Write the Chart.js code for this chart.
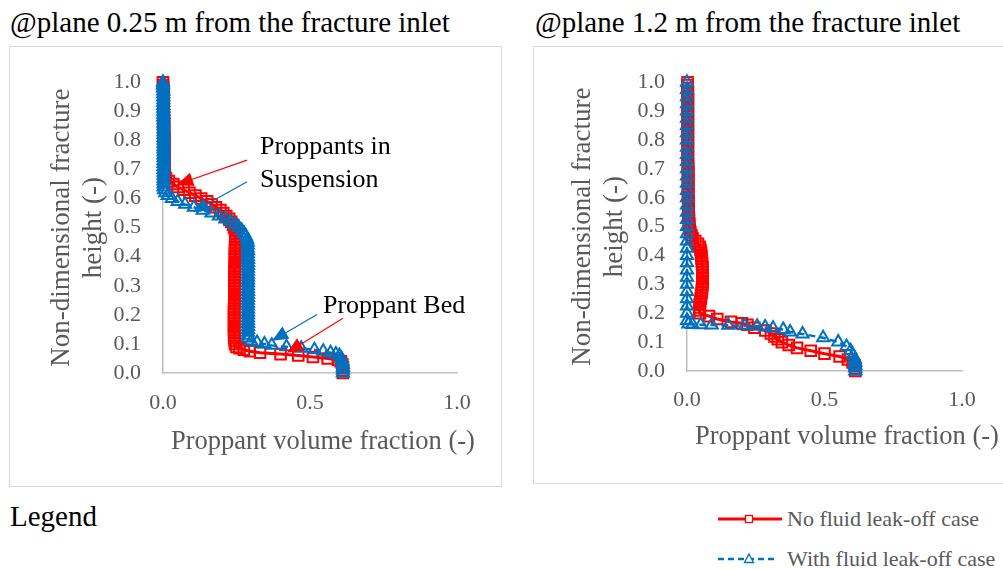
<!DOCTYPE html>
<html>
<head>
<meta charset="utf-8">
<script src="https://cdn.jsdelivr.net/npm/chart.js@4.4.0/dist/chart.umd.min.js"></script>
<style>
  body {
    margin: 0;
    width: 1003px;
    height: 569px;
    overflow: hidden;
    background: #fff;
    position: relative;
    font-family: "Liberation Serif", "Times New Roman", serif;
  }
  .titulo {
    position: absolute;
    top: 8px;
    font-size: 29px;
    line-height: 29px;
    color: #000;
    white-space: nowrap;
  }
  .caixa {
    position: absolute;
    box-sizing: border-box;
    border: 1px solid #d9d9d9;
    background: #fff;
    overflow: hidden;
  }
  .caixa canvas {
    position: absolute;
    left: 0;
    top: 0;
  }
  .legenda-texto {
    position: absolute;
    left: 787px;
    font-size: 22px;
    line-height: 22px;
    color: #595959;
    white-space: nowrap;
  }
</style>
</head>
<body>

<div class="titulo" style="left:10px">@plane 0.25 m from the fracture inlet</div>
<div class="titulo" style="left:535px">@plane 1.2 m from the fracture inlet</div>

<div class="caixa" style="left:9px; top:46px; width:493px; height:441px">
  <canvas id="graficoEsquerda" width="491" height="439"></canvas>
</div>
<div class="caixa" style="left:533px; top:46px; width:480px; height:438px">
  <canvas id="graficoDireita" width="469" height="436"></canvas>
</div>

<div class="titulo" style="left:10px; top:502px">Legend</div>

<svg style="position:absolute; left:714px; top:505px" width="72" height="64">
  <line x1="4" y1="14" x2="68" y2="14" stroke="#ff0000" stroke-width="3" />
  <rect x="31.5" y="10.5" width="7" height="7" fill="#fff" stroke="#ff0000" stroke-width="1.3" />
  <line x1="4" y1="54" x2="63" y2="54" stroke="#0070c0" stroke-width="2.5" stroke-dasharray="6,4" />
  <polygon points="35,49 39.5,57.5 30.5,57.5" fill="#fff" stroke="#0070c0" stroke-width="1.3" />
</svg>
<div class="legenda-texto" style="top:508px">No fluid leak-off case</div>
<div class="legenda-texto" style="top:548px">With fluid leak-off case</div>

<script>
// [fracao volumetrica, altura adimensional]
const esquerdaSemPerda = [
  [0.000, 1.00], [0.000, 0.99], [0.001, 0.98], [0.001, 0.97], [0.001, 0.96],
  [0.002, 0.95], [0.002, 0.94], [0.002, 0.93], [0.002, 0.92], [0.002, 0.91],
  [0.002, 0.90], [0.003, 0.89], [0.003, 0.88], [0.003, 0.87], [0.003, 0.86],
  [0.003, 0.85], [0.003, 0.84], [0.003, 0.83], [0.003, 0.82], [0.004, 0.81],
  [0.004, 0.80], [0.004, 0.79], [0.004, 0.78], [0.004, 0.77], [0.004, 0.76],
  [0.004, 0.75], [0.004, 0.74], [0.005, 0.73], [0.005, 0.72], [0.005, 0.71],
  [0.005, 0.70], [0.005, 0.69], [0.006, 0.68], [0.010, 0.67], [0.020, 0.66],
  [0.035, 0.65], [0.050, 0.64], [0.070, 0.63], [0.090, 0.62], [0.110, 0.61],
  [0.130, 0.60], [0.150, 0.59], [0.165, 0.58], [0.180, 0.57], [0.195, 0.56],
  [0.205, 0.55], [0.215, 0.54], [0.225, 0.53], [0.232, 0.52], [0.238, 0.51],
  [0.242, 0.50], [0.245, 0.49], [0.246, 0.48], [0.246, 0.47], [0.246, 0.46],
  [0.246, 0.45], [0.246, 0.44], [0.245, 0.43], [0.245, 0.42], [0.245, 0.41],
  [0.245, 0.40], [0.245, 0.39], [0.245, 0.38], [0.244, 0.37], [0.244, 0.36],
  [0.244, 0.35], [0.244, 0.34], [0.244, 0.33], [0.244, 0.32], [0.243, 0.31],
  [0.243, 0.30], [0.243, 0.29], [0.243, 0.28], [0.243, 0.27], [0.243, 0.26],
  [0.243, 0.25], [0.243, 0.24], [0.242, 0.23], [0.242, 0.22], [0.242, 0.21],
  [0.242, 0.20], [0.242, 0.19], [0.242, 0.18], [0.242, 0.17], [0.242, 0.16],
  [0.242, 0.15], [0.242, 0.14], [0.242, 0.13], [0.243, 0.12], [0.244, 0.11],
  [0.245, 0.10], [0.250, 0.090], [0.260, 0.085], [0.275, 0.080], [0.295, 0.075],
  [0.330, 0.070], [0.400, 0.065], [0.460, 0.060], [0.510, 0.055], [0.560, 0.050],
  [0.595, 0.045], [0.605, 0.040], [0.610, 0.030], [0.612, 0.020], [0.612, 0.010],
  [0.612, 0.000]
];

const esquerdaComPerda = [
  [0.000, 1.00], [0.000, 0.99], [0.000, 0.98], [0.001, 0.97], [0.001, 0.96],
  [0.001, 0.95], [0.001, 0.94], [0.001, 0.93], [0.001, 0.92], [0.001, 0.91],
  [0.001, 0.90], [0.001, 0.89], [0.001, 0.88], [0.002, 0.87], [0.002, 0.86],
  [0.002, 0.85], [0.002, 0.84], [0.002, 0.83], [0.002, 0.82], [0.002, 0.81],
  [0.002, 0.80], [0.002, 0.79], [0.002, 0.78], [0.002, 0.77], [0.002, 0.76],
  [0.002, 0.75], [0.002, 0.74], [0.002, 0.73], [0.002, 0.72], [0.002, 0.71],
  [0.002, 0.70], [0.002, 0.69], [0.002, 0.68], [0.002, 0.67], [0.002, 0.66],
  [0.002, 0.65], [0.002, 0.64], [0.004, 0.63], [0.008, 0.62], [0.016, 0.61],
  [0.030, 0.60], [0.050, 0.59], [0.075, 0.58], [0.105, 0.57], [0.135, 0.56],
  [0.165, 0.55], [0.190, 0.54], [0.212, 0.53], [0.230, 0.52], [0.245, 0.51],
  [0.258, 0.50], [0.268, 0.49], [0.276, 0.48], [0.282, 0.47], [0.286, 0.46],
  [0.288, 0.45], [0.288, 0.44], [0.288, 0.43], [0.289, 0.42], [0.289, 0.41],
  [0.289, 0.40], [0.289, 0.39], [0.289, 0.38], [0.289, 0.37], [0.289, 0.36],
  [0.289, 0.35], [0.289, 0.34], [0.289, 0.33], [0.289, 0.32], [0.289, 0.31],
  [0.289, 0.30], [0.289, 0.29], [0.289, 0.28], [0.289, 0.27], [0.289, 0.26],
  [0.289, 0.25], [0.289, 0.24], [0.289, 0.23], [0.289, 0.22], [0.289, 0.21],
  [0.289, 0.20], [0.289, 0.19], [0.289, 0.18], [0.289, 0.17], [0.289, 0.16],
  [0.289, 0.15], [0.289, 0.14], [0.289, 0.13], [0.290, 0.120], [0.300, 0.110],
  [0.320, 0.105], [0.345, 0.100], [0.370, 0.095], [0.420, 0.090], [0.470, 0.085],
  [0.515, 0.080], [0.545, 0.075], [0.570, 0.070], [0.588, 0.065], [0.600, 0.060],
  [0.607, 0.050], [0.610, 0.040], [0.612, 0.030], [0.612, 0.020], [0.612, 0.010],
  [0.612, 0.000]
];

const direitaSemPerda = [
  [0.002, 1.00], [0.002, 0.99], [0.002, 0.98], [0.003, 0.97], [0.003, 0.96],
  [0.003, 0.95], [0.003, 0.94], [0.003, 0.93], [0.003, 0.92], [0.003, 0.91],
  [0.003, 0.90], [0.003, 0.89], [0.003, 0.88], [0.003, 0.87], [0.003, 0.86],
  [0.003, 0.85], [0.003, 0.84], [0.003, 0.83], [0.003, 0.82], [0.003, 0.81],
  [0.003, 0.80], [0.003, 0.79], [0.003, 0.78], [0.003, 0.77], [0.003, 0.76],
  [0.003, 0.75], [0.003, 0.74], [0.003, 0.73], [0.003, 0.72], [0.004, 0.71],
  [0.004, 0.70], [0.004, 0.69], [0.004, 0.68], [0.004, 0.67], [0.004, 0.66],
  [0.004, 0.65], [0.004, 0.64], [0.004, 0.63], [0.004, 0.62], [0.004, 0.61],
  [0.004, 0.60], [0.005, 0.59], [0.005, 0.58], [0.005, 0.57], [0.005, 0.56],
  [0.006, 0.55], [0.006, 0.54], [0.007, 0.53], [0.007, 0.52], [0.008, 0.51],
  [0.008, 0.50], [0.010, 0.49], [0.012, 0.48], [0.016, 0.47], [0.020, 0.46],
  [0.030, 0.45], [0.040, 0.44], [0.046, 0.43], [0.049, 0.42], [0.051, 0.41],
  [0.052, 0.40], [0.053, 0.39], [0.054, 0.38], [0.055, 0.37], [0.056, 0.36],
  [0.056, 0.35], [0.057, 0.34], [0.057, 0.33], [0.057, 0.32], [0.057, 0.31],
  [0.056, 0.30], [0.055, 0.29], [0.054, 0.28], [0.053, 0.27], [0.051, 0.26],
  [0.050, 0.25], [0.048, 0.24], [0.046, 0.23], [0.045, 0.22], [0.044, 0.21],
  [0.047, 0.200], [0.080, 0.190], [0.110, 0.180], [0.160, 0.170], [0.200, 0.165],
  [0.220, 0.160], [0.245, 0.150], [0.285, 0.140], [0.305, 0.130], [0.318, 0.120],
  [0.330, 0.110], [0.345, 0.100], [0.370, 0.090], [0.400, 0.080], [0.450, 0.070],
  [0.500, 0.060], [0.555, 0.050], [0.585, 0.040], [0.602, 0.030], [0.610, 0.020],
  [0.612, 0.010], [0.612, 0.000]
];

const direitaComPerda = [
  [0.000, 1.000], [0.000, 0.975], [0.000, 0.950], [0.000, 0.925], [0.000, 0.900],
  [0.000, 0.875], [0.000, 0.850], [0.000, 0.825], [0.000, 0.800], [0.000, 0.775],
  [0.000, 0.750], [0.000, 0.725], [0.000, 0.700], [0.000, 0.675], [0.000, 0.650],
  [0.000, 0.625], [0.000, 0.600], [0.000, 0.575], [0.000, 0.550], [0.000, 0.525],
  [0.000, 0.500], [0.000, 0.475], [0.000, 0.450], [0.000, 0.425], [0.000, 0.400],
  [0.000, 0.375], [0.000, 0.350], [0.000, 0.325], [0.000, 0.300], [0.000, 0.275],
  [0.000, 0.250], [0.000, 0.225], [0.000, 0.200], [0.000, 0.175], [0.005, 0.163],
  [0.020, 0.161], [0.050, 0.160], [0.090, 0.159], [0.150, 0.158], [0.210, 0.157],
  [0.255, 0.155], [0.284, 0.152], [0.313, 0.148], [0.350, 0.144], [0.375, 0.135],
  [0.420, 0.128], [0.495, 0.115], [0.550, 0.100], [0.580, 0.085], [0.595, 0.070],
  [0.604, 0.054], [0.610, 0.040], [0.612, 0.030], [0.612, 0.020], [0.612, 0.010],
  [0.612, 0.000]
];

const ticksX = [0, 0.5, 1];
const ticksY = [0, 0.1, 0.2, 0.3, 0.4, 0.5, 0.6, 0.7, 0.8, 0.9, 1];

const rotuloSemPerda = "No fluid leak-off case";
const rotuloComPerda = "With fluid leak-off case";
const tituloEixoX = "Proppant volume fraction (-)";
const tituloEixoY = ["Non-dimensional fracture", "height (-)"];

const fonte = '"Liberation Serif", "Times New Roman", serif';
const cinza = "#595959";
const vermelho = "#ff0000";
const azul = "#0070c0";

// setas e textos do grafico da esquerda (coordenadas em unidades dos eixos)
const setasEsquerda = [
  { de: [0.286, 0.732], para: [0.048, 0.648], cor: vermelho },
  { de: [0.286, 0.658], para: [0.102, 0.554], cor: azul },
  { de: [0.524, 0.201], para: [0.371, 0.111], cor: azul },
  { de: [0.612, 0.188], para: [0.422, 0.070], cor: vermelho },
];
const textosEsquerda = [
  { texto: "Proppants in", pos: [0.330, 0.752] },
  { texto: "Suspension", pos: [0.330, 0.641] },
  { texto: "Proppant Bed", pos: [0.544, 0.205] },
];

const pluginAnotacoes = {
  id: "anotacoes",
  afterDatasetsDraw(chart, args, opts) {
    const { ctx, chartArea } = chart;
    const x = chart.scales.x;
    const y = chart.scales.y;

    ctx.save();

    (opts.setas || []).forEach((s) => {
      const x1 = x.getPixelForValue(s.de[0]);
      const y1 = y.getPixelForValue(s.de[1]);
      const x2 = x.getPixelForValue(s.para[0]);
      const y2 = y.getPixelForValue(s.para[1]);
      const ang = Math.atan2(y2 - y1, x2 - x1);
      const cos = Math.cos(ang);
      const sin = Math.sin(ang);

      ctx.strokeStyle = s.cor;
      ctx.lineWidth = 1.2;
      ctx.beginPath();
      ctx.moveTo(x1, y1);
      ctx.lineTo(x2 - cos * 10, y2 - sin * 10);
      ctx.stroke();

      ctx.fillStyle = s.cor;
      ctx.beginPath();
      ctx.moveTo(x2, y2);
      ctx.lineTo(x2 - cos * 16 + sin * 7, y2 - sin * 16 - cos * 7);
      ctx.lineTo(x2 - cos * 16 - sin * 7, y2 - sin * 16 + cos * 7);
      ctx.closePath();
      ctx.fill();
    });

    ctx.fillStyle = "#000";
    ctx.font = "26px " + fonte;
    ctx.textAlign = "left";
    ctx.textBaseline = "alphabetic";
    (opts.textos || []).forEach((t) => {
      ctx.fillText(t.texto, x.getPixelForValue(t.pos[0]), y.getPixelForValue(t.pos[1]));
    });

    // titulo do eixo x
    ctx.fillStyle = cinza;
    ctx.font = "26.5px " + fonte;
    ctx.fillText(tituloEixoX, chartArea.left + 8, chartArea.bottom + opts.baseTituloX);

    ctx.restore();
  },
};

function paraPontos(lista) {
  return lista.map((p) => ({ x: p[0], y: p[1] }));
}

function criarGrafico(id, semPerda, comPerda, area, anotacoes) {
  const canvas = document.getElementById(id);

  return new Chart(canvas, {
    type: "scatter",

    data: {
      datasets: [
        {
          label: rotuloSemPerda,
          data: paraPontos(semPerda),
          showLine: true,
          borderColor: vermelho,
          borderWidth: 3,
          pointStyle: "rect",
          pointRadius: 7.5,
          pointBorderColor: vermelho,
          pointBackgroundColor: "rgba(255,255,255,0)",
          pointBorderWidth: 2,
          clip: false,
          order: 2,
        },
        {
          label: rotuloComPerda,
          data: paraPontos(comPerda),
          showLine: true,
          borderColor: azul,
          borderWidth: 2.5,
          borderDash: [7, 4],
          pointStyle: "triangle",
          pointRadius: 7,
          pointBorderColor: azul,
          pointBackgroundColor: "rgba(255,255,255,0)",
          pointBorderWidth: 2,
          clip: false,
          order: 1,
        },
      ],
    },

    options: {
      responsive: false,
      animation: false,
      events: [],

      layout: {
        padding: { left: 0, top: area.topo, right: area.direita, bottom: 0 },
      },

      plugins: {
        legend: { display: false },
        tooltip: { enabled: false },
        anotacoes: anotacoes,
      },

      scales: {
        x: {
          type: "linear",
          min: 0,
          max: 1,
          afterBuildTicks: (s) => {
            s.ticks = ticksX.map((v) => ({ value: v }));
          },
          afterFit: (s) => {
            s.height = area.alturaX;
          },
          grid: { display: false, drawTicks: false },
          border: { display: true, color: "#bfbfbf", width: 1.5 },
          ticks: {
            autoSkip: false,
            maxRotation: 0,
            color: cinza,
            padding: area.padX,
            font: { family: fonte, size: 22 },
            callback: (v) => Number(v).toFixed(1),
          },
        },

        y: {
          type: "linear",
          min: 0,
          max: 1,
          afterBuildTicks: (s) => {
            s.ticks = ticksY.map((v) => ({ value: v }));
          },
          afterFit: (s) => {
            s.width = area.larguraY;
          },
          grid: { display: false, drawTicks: false },
          border: { display: true, color: "#bfbfbf", width: 1.5 },
          ticks: {
            autoSkip: false,
            color: cinza,
            padding: 22,
            font: { family: fonte, size: 22 },
            callback: (v) => Number(v).toFixed(1),
          },
          title: {
            display: true,
            text: tituloEixoY,
            color: cinza,
            font: { family: fonte, size: 27, lineHeight: 1.167 },
            padding: { top: area.padTituloY, bottom: 0 },
          },
        },
      },
    },

    plugins: [pluginAnotacoes],
  });
}

criarGrafico(
  "graficoEsquerda",
  esquerdaSemPerda,
  esquerdaComPerda,
  { topo: 28, direita: 44, alturaX: 113, larguraY: 153, padX: 17, padTituloY: 36.25 },
  { setas: setasEsquerda, textos: textosEsquerda, baseTituloX: 76 }
);

criarGrafico(
  "graficoDireita",
  direitaSemPerda,
  direitaComPerda,
  { topo: 27, direita: 41, alturaX: 112, larguraY: 153, padX: 16, padTituloY: 33.25 },
  { setas: [], textos: [], baseTituloX: 73 }
);
</script>
</body>
</html>
